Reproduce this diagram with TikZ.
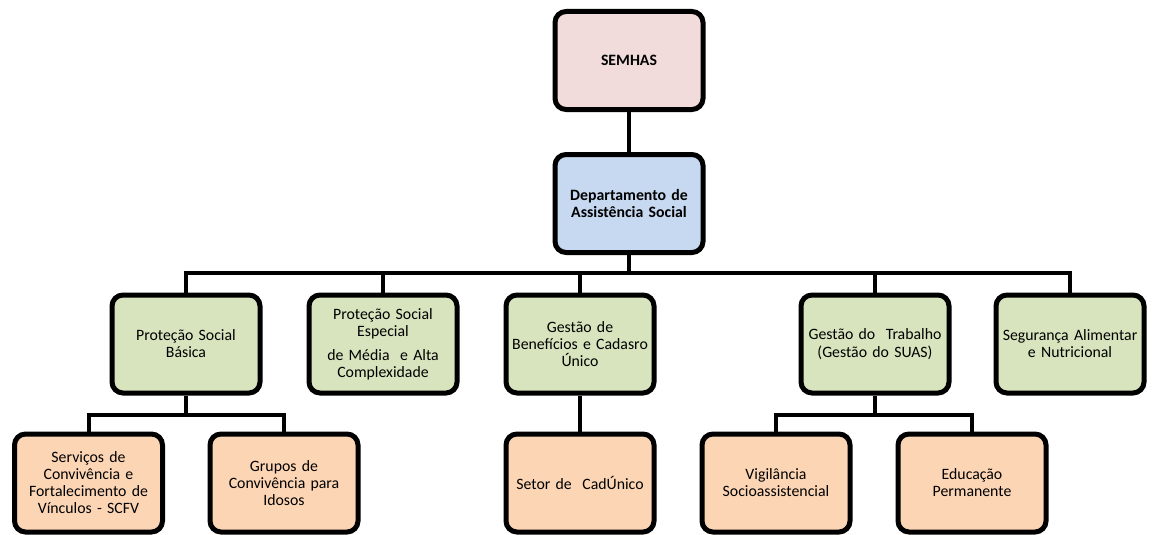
\documentclass[tikz,border=0pt]{standalone}
\usepackage{fontspec}
\setmainfont{Carlito}
\definecolor{pinkfill}{HTML}{F2DCDB}
\definecolor{bluefill}{HTML}{C6D9F1}
\definecolor{greenfill}{HTML}{D7E4BD}
\definecolor{orangefill}{HTML}{FCD5B5}
\tikzset{
  box/.style={draw=black, line width=5pt, rounded corners=11pt, minimum width=148pt, minimum height=98pt,
    align=center, text width=146pt, inner sep=0pt, font=\fontsize{15.8pt}{17pt}\selectfont},
  topbox/.style={box, font=\fontsize{15.8pt}{17pt}\selectfont\bfseries},
  pinkbox/.style={topbox, fill=pinkfill},
  bluebox/.style={topbox, fill=bluefill},
  greenbox/.style={box, fill=greenfill},
  orangebox/.style={box, fill=orangefill},
  conn/.style={draw=black, line width=4pt, line join=miter}
}
\begin{document}
\begin{tikzpicture}[x=1pt,y=-1pt]
\useasboundingbox (0,0) rectangle (1152,535);
% nodes
\node[pinkbox] (semhas) at (629,60.5) {SEMHAS};
\node[bluebox] (dept) at (629,203.5) {Departamento de\\Assistência Social};
\node[greenbox] (psb) at (186,344) {Proteção Social\\Básica};
\node[greenbox] (pse) at (383,344) {Proteção Social\\Especial\\[7pt]de Média~ e Alta\\Complexidade};
\node[greenbox] (gb) at (580,344) {Gestão de\\Benefícios e Cadasro\\Único};
\node[greenbox] (gt) at (875,344) {Gestão do~ Trabalho\\[1pt](Gestão do SUAS)};
\node[greenbox] (sa) at (1070,344) {Segurança Alimentar\\e Nutricional};
\node[orangebox] (scfv) at (88.5,483) {Serviços de\\Convivência e\\Fortalecimento de\\Vínculos - SCFV};
\node[orangebox] (gci) at (284,483) {Grupos de\\Convivência para\\Idosos};
\node[orangebox] (setor) at (580,483) {Setor de~ CadÚnico};
\node[orangebox] (vig) at (776,483) {Vigilância\\Socioassistencial};
\node[orangebox] (edu) at (972,483) {Educação\\Permanente};
% junction coordinates
\coordinate (bar) at (629,273);
\coordinate (barpsb) at (186,415);
\coordinate (bargt) at (875,415);
% connectors
\draw[conn] (semhas.south) -- (dept.north);
\draw[conn] (dept.south) -- (bar);
\draw[conn] (psb.north) -- (psb.north |- bar) -- (sa.north |- bar) -- (sa.north);
\draw[conn] (pse.north) -- (pse.north |- bar);
\draw[conn] (gb.north) -- (gb.north |- bar);
\draw[conn] (gt.north) -- (gt.north |- bar);
\draw[conn] (psb.south) -- (barpsb);
\draw[conn] (scfv.north) -- (scfv.north |- barpsb) -- (gci.north |- barpsb) -- (gci.north);
\draw[conn] (gb.south) -- (setor.north);
\draw[conn] (gt.south) -- (bargt);
\draw[conn] (vig.north) -- (vig.north |- bargt) -- (edu.north |- bargt) -- (edu.north);
\end{tikzpicture}
\end{document}
